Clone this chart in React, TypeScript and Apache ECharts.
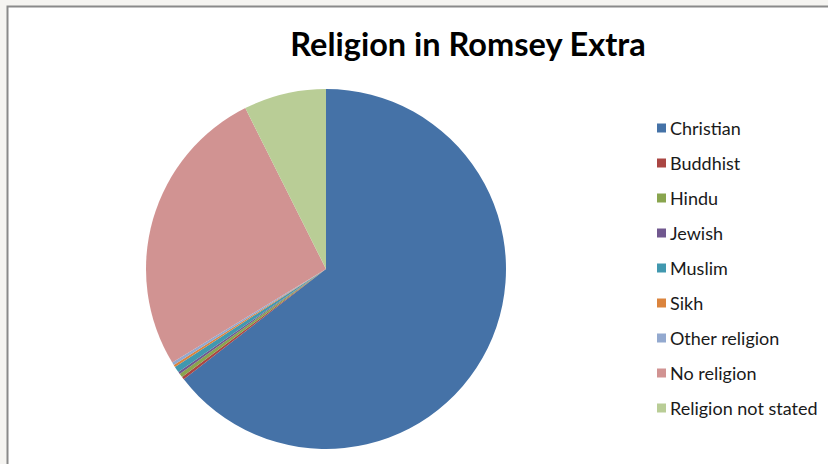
import React, { useEffect, useRef } from "react";
import * as echarts from "echarts";

const categories = [
  "Christian",
  "Buddhist",
  "Hindu",
  "Jewish",
  "Muslim",
  "Sikh",
  "Other religion",
  "No religion",
  "Religion not stated",
];
const shares = [64.5, 0.25, 0.35, 0.2, 0.55, 0.2, 0.25, 26.3, 7.4];
const colors = [
  "#4572A7",
  "#AA4643",
  "#89A54E",
  "#71588F",
  "#4198AF",
  "#DB843D",
  "#93A9CF",
  "#D19392",
  "#B9CD96",
];
const title = "Religion in Romsey Extra";

export default function App() {
  const ref = useRef<HTMLDivElement>(null);
  useEffect(() => {
    if (!ref.current) return;
    const chart = echarts.init(ref.current, undefined, { renderer: "svg" });
    chart.setOption({
      animation: false,
      backgroundColor: "#f5f4f1",
      color: colors,
      graphic: [
        {
          type: "rect",
          z: -1,
          silent: true,
          shape: { x: 7.5, y: 6.5, width: 840, height: 480 },
          style: { fill: "#ffffff", stroke: "#8a8a8a", lineWidth: 2 },
        },
      ],
      title: {
        text: title,
        left: 463,
        top: 22,
        textAlign: "center",
        textStyle: {
          fontFamily: "Lato",
          fontWeight: "bold",
          fontSize: 32.5,
          color: "#000000",
        },
      },
      legend: {
        orient: "vertical",
        left: 652,
        top: 114,
        itemWidth: 9,
        itemHeight: 9,
        itemGap: 17,
        icon: "rect",
        data: categories,
        textStyle: {
          fontFamily: "Lato",
          fontSize: 18,
          lineHeight: 18,
          color: "#1a1a1a",
          padding: [0, 0, 0, -1],
        },
      },
      series: [
        {
          type: "pie",
          center: [326, 269],
          radius: 180,
          startAngle: 90,
          clockwise: true,
          label: { show: false },
          labelLine: { show: false },
          itemStyle: { borderWidth: 0 },
          emphasis: { disabled: true },
          data: categories.map((name, i) => ({ name, value: shares[i] })),
        },
      ],
    });
    return () => chart.dispose();
  }, []);
  return (
    <div
      ref={ref}
      style={{ position: "fixed", left: 0, top: 0, width: 828, height: 464 }}
    />
  );
}
